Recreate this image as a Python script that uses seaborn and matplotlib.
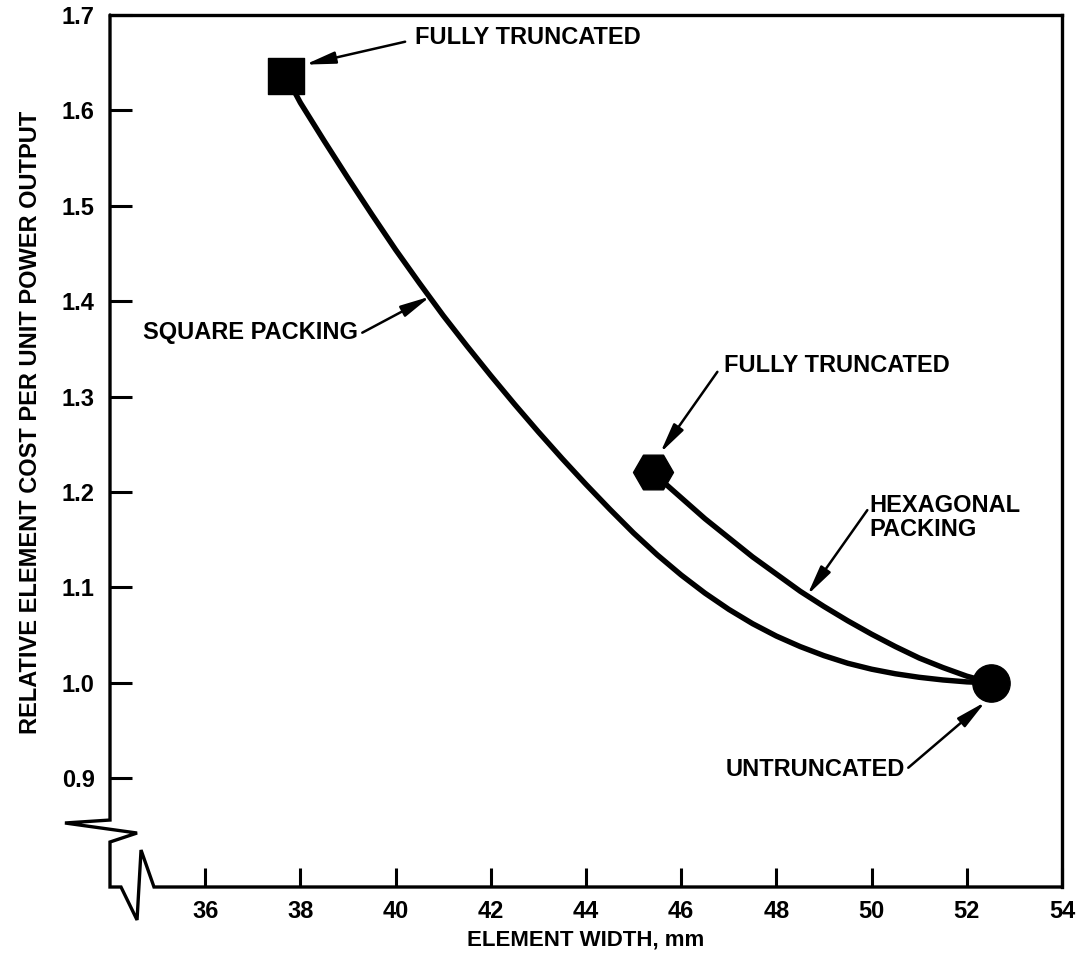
import matplotlib
matplotlib.use("Agg")
import matplotlib.pyplot as plt
import pandas as pd
import seaborn as sns

# Element width (mm) vs relative element cost per unit power output
square_width = [37.7, 38.0, 38.5, 39.0, 39.5, 40.0, 40.5, 41.0, 41.5, 42.0,
                42.5, 43.0, 43.5, 44.0, 44.5, 45.0, 45.5, 46.0, 46.5, 47.0,
                47.5, 48.0, 48.5, 49.0, 49.5, 50.0, 50.5, 51.0, 51.5, 52.0,
                52.5]
square_cost = [1.636, 1.608, 1.568, 1.529, 1.491, 1.454, 1.419, 1.385, 1.353,
               1.322, 1.292, 1.263, 1.235, 1.208, 1.182, 1.157, 1.134, 1.113,
               1.094, 1.077, 1.062, 1.049, 1.038, 1.0285, 1.0205, 1.0143,
               1.0095, 1.0058, 1.003, 1.001, 1.000]

hex_width = [45.4, 45.5, 46.0, 46.5, 47.0, 47.5, 48.0, 48.5, 49.0, 49.5,
             50.0, 50.5, 51.0, 51.5, 52.0, 52.5]
hex_cost = [1.221, 1.216, 1.194, 1.172, 1.152, 1.132, 1.114, 1.096, 1.080,
            1.065, 1.051, 1.038, 1.026, 1.016, 1.007, 1.000]

# End points: fully truncated square, fully truncated hexagon, untruncated
end_width = [37.7, 45.4, 52.5]
end_cost = [1.636, 1.221, 1.000]
end_marker = ["s", "H", "o"]
end_size = [640, 830, 720]

x_ticks = [36, 38, 40, 42, 44, 46, 48, 50, 52, 54]
y_ticks = [0.9, 1.0, 1.1, 1.2, 1.3, 1.4, 1.5, 1.6, 1.7]

sns.set_theme(style="white")
plt.rcParams["font.family"] = ["Liberation Sans", "DejaVu Sans"]
plt.rcParams["font.weight"] = "bold"
plt.rcParams["text.color"] = "black"
plt.rcParams["axes.labelcolor"] = "black"

fig = plt.figure(figsize=(10.76, 9.56), dpi=100)
ax = fig.add_axes([110 / 1076, 69 / 956, 952 / 1076, 872 / 956])

sq = pd.DataFrame({"width": square_width, "cost": square_cost})
hx = pd.DataFrame({"width": hex_width, "cost": hex_cost})
ends = pd.DataFrame({"width": end_width, "cost": end_cost,
                     "marker": end_marker, "size": end_size})

line_kw = dict(color="black", linewidth=3.9, sort=False, estimator=None,
               solid_capstyle="round", solid_joinstyle="round")
sns.lineplot(data=sq, x="width", y="cost", ax=ax, **line_kw)
sns.lineplot(data=hx, x="width", y="cost", ax=ax, **line_kw)

for _, row in ends.iterrows():
    sns.scatterplot(x=[row["width"]], y=[row["cost"]], ax=ax,
                    marker=row["marker"], s=row["size"], color="black",
                    edgecolor="black", linewidth=1, zorder=4)

ax.set_xlim(34, 54)
ax.set_ylim(0.786, 1.7)
ax.set_xticks(x_ticks)
ax.set_yticks(y_ticks)
ax.set_xticklabels([str(v) for v in x_ticks])
ax.set_yticklabels([f"{v:.1f}" for v in y_ticks])

ax.tick_params(axis="x", direction="in", length=14, width=2.2, pad=9,
               bottom=True, labelsize=17, colors="black")
ax.tick_params(axis="y", direction="in", length=16, width=2.2, pad=11,
               left=True, labelsize=17, colors="black")
for lab in ax.get_xticklabels() + ax.get_yticklabels():
    lab.set_fontweight("bold")

# Frame: top and right as spines, left and bottom drawn with the axis break
for side in ("top", "right"):
    ax.spines[side].set_visible(True)
    ax.spines[side].set_linewidth(2.4)
    ax.spines[side].set_color("black")
for side in ("left", "bottom"):
    ax.spines[side].set_visible(False)

brk_x = [0, 0, -0.0473, 0.0284, 0, 0, 0.01155, 0.0284, 0.0326, 0.0462, 1.0]
brk_y = [1.0, 0.0768, 0.0734, 0.0619, 0.0516, 0, 0, -0.0378, 0.0424, 0, 0]
ax.plot(brk_x, brk_y, transform=ax.transAxes, color="black", lw=2.4,
        clip_on=False, solid_joinstyle="miter", zorder=5)

ax.set_xlabel("ELEMENT WIDTH, mm", fontsize=16, fontweight="bold",
              va="center")
ax.set_ylabel("RELATIVE ELEMENT COST PER UNIT POWER OUTPUT", fontsize=17,
              fontweight="bold", va="center")
ax.xaxis.set_label_coords(0.5, -0.061)
ax.yaxis.set_label_coords(-0.084, 0.533)

arrow = dict(arrowstyle="-|>,head_length=1.5,head_width=0.3", color="black",
             lw=1.8, shrinkA=0, shrinkB=0)
txt = dict(fontsize=17, fontweight="bold", color="black")

ax.annotate("", xy=(38.10, 1.648), xytext=(40.20, 1.672), arrowprops=arrow)
ax.text(40.41, 1.676, "FULLY TRUNCATED", ha="left", va="center", **txt)

ax.annotate("", xy=(40.73, 1.405), xytext=(39.30, 1.367), arrowprops=arrow)
ax.text(39.21, 1.367, "SQUARE PACKING", ha="right", va="center", **txt)

ax.annotate("", xy=(45.56, 1.241), xytext=(46.76, 1.326), arrowprops=arrow)
ax.text(46.90, 1.333, "FULLY TRUNCATED", ha="left", va="center", **txt)

ax.annotate("", xy=(48.65, 1.092), xytext=(49.91, 1.181), arrowprops=arrow)
ax.text(49.95, 1.173, "HEXAGONAL\nPACKING", ha="left", va="center",
        linespacing=1.05, **txt)

ax.annotate("", xy=(52.39, 0.980), xytext=(50.77, 0.911), arrowprops=arrow)
ax.text(50.71, 0.909, "UNTRUNCATED", ha="right", va="center", **txt)

fig.savefig("out.png", dpi=100, facecolor="white")
